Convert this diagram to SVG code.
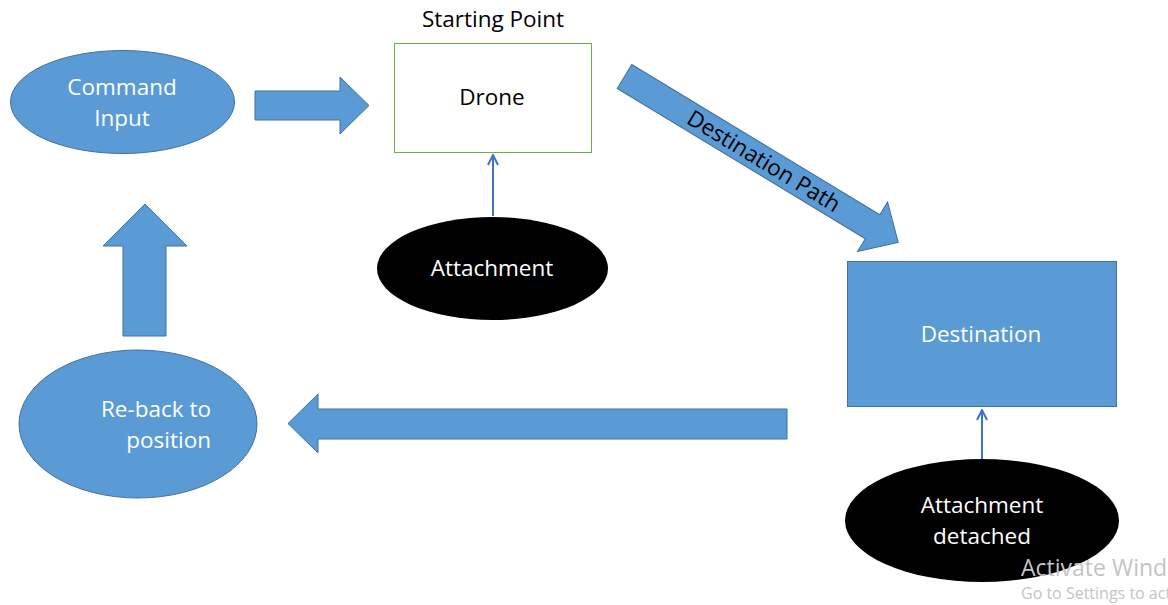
<svg xmlns="http://www.w3.org/2000/svg" width="1168" height="605" viewBox="0 0 1168 605">
  <style>
    .blue { fill: #5B9BD5; stroke: #41719C; stroke-width: 1; }
    .dark { fill: #000000; }
    .lbl { font-family: "Open Sans", "Liberation Sans", sans-serif; font-size: 22.5px; text-anchor: middle; }
    .w { fill: #ffffff; }
    .k { fill: #000000; }
    .link { stroke: #4472C4; stroke-width: 2; fill: none; marker-end: url(#open); }
    .wm { font-family: "Open Sans", "Liberation Sans", sans-serif; fill: #c4c4c4; }
  </style>
  <defs>
    <marker id="open" viewBox="0 0 12 12" refX="11" refY="6" markerWidth="6" markerHeight="6" orient="auto" markerUnits="strokeWidth">
      <path d="M1,1 L11,6 L1,11" fill="none" stroke="#4472C4" stroke-width="2"/>
    </marker>
  </defs>
  <rect width="1168" height="605" fill="#ffffff"/>

  <g id="connectors">
    <!-- block arrow: command input to drone -->
    <polygon class="blue" points="255,91 340,91 340,77 369,105.5 340,134 340,120 255,120"/>
    <!-- block arrow: destination path -->
    <g transform="translate(624.5,76.5) rotate(31.2)">
      <polygon class="blue" points="0,-14 290,-14 290,-29 320,0 290,29 290,14 0,14"/>
      <text class="lbl k" x="163" y="8" font-size="21.5">Destination Path</text>
    </g>
    <!-- block arrow: back towards start -->
    <polygon class="blue" points="787,409 318,409 318,394 288,423.5 318,453 318,439 787,439"/>
    <!-- block arrow: up to command input -->
    <polygon class="blue" points="123,336 123,246 103,246 145,204 187,246 166,246 166,336"/>
    <!-- thin connectors -->
    <line class="link" x1="493" y1="216" x2="493" y2="155"/>
    <line class="link" x1="982" y1="460" x2="982" y2="410"/>
  </g>

  <g id="command-input">
    <ellipse class="blue" cx="122.5" cy="102" rx="112" ry="51.5"/>
    <text class="lbl w" x="122" y="95">Command</text>
    <text class="lbl w" x="122" y="126">Input</text>
  </g>

  <g id="drone">
    <text class="lbl k" x="493" y="27" font-size="21.5">Starting Point</text>
    <rect x="394.5" y="43.5" width="197" height="109" fill="#ffffff" stroke="#70AD47" stroke-width="1"/>
    <text class="lbl k" x="492" y="105">Drone</text>
  </g>

  <g id="attachment">
    <ellipse class="dark" cx="492.5" cy="268.5" rx="115.5" ry="51.5"/>
    <text class="lbl w" x="492" y="276">Attachment</text>
  </g>

  <g id="destination">
    <rect class="blue" x="847.5" y="261.5" width="269" height="145"/>
    <text class="lbl w" x="981" y="342">Destination</text>
  </g>

  <g id="attachment-detached">
    <ellipse class="dark" cx="982" cy="520.5" rx="137" ry="61.5"/>
    <text class="lbl w" x="982" y="513">Attachment</text>
    <text class="lbl w" x="982" y="544">detached</text>
  </g>

  <g id="re-back">
    <ellipse class="blue" cx="138" cy="424" rx="119" ry="74"/>
    <text class="lbl w" x="211" y="417" style="text-anchor:end">Re-back to</text>
    <text class="lbl w" x="211" y="448" style="text-anchor:end">position</text>
  </g>

  <g id="watermark">
    <text class="wm" x="1021" y="576" font-size="23">Activate Windows</text>
    <text class="wm" x="1021" y="599" font-size="16">Go to Settings to activate Windows.</text>
  </g>
</svg>
